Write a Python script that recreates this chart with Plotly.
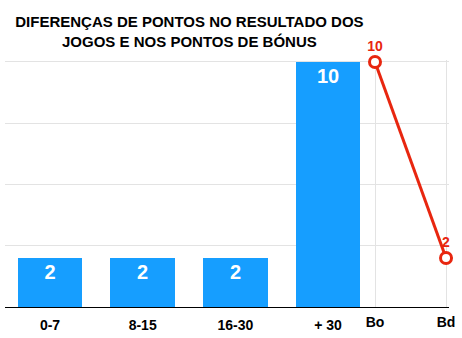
import plotly.graph_objects as go

# Point-difference bands and how many games fell in each
bands = ["0-7", "8-15", "16-30", "+ 30"]
games = [2, 2, 2, 10]

# Bonus points: offensive (Bo) and defensive (Bd)
bonus_types = ["Bo", "Bd"]
bonus_points = [10, 2]

BLUE = "#169EFF"
RED = "#E8260F"
FONT = "Liberation Sans, Arial, Helvetica, sans-serif"

fig = go.Figure()

fig.add_trace(go.Bar(
    x=bands, y=games, width=0.7,
    marker=dict(color=BLUE, line=dict(width=0)),
    text=[str(v) for v in games],
    textposition="inside", insidetextanchor="end",
    textfont=dict(family=FONT, size=20, color="white"),
    texttemplate="<b>%{text}</b>",
    cliponaxis=False,
    xaxis="x", yaxis="y",
    showlegend=False,
))

fig.add_trace(go.Scatter(
    x=bonus_types, y=bonus_points,
    mode="lines+markers+text",
    line=dict(color=RED, width=3),
    marker=dict(symbol="circle", size=11, color="white",
                line=dict(color=RED, width=3)),
    text=[f"<b>{v}</b>" for v in bonus_points],
    textposition="top center",
    textfont=dict(family=FONT, size=14, color=RED),
    cliponaxis=False,
    xaxis="x2", yaxis="y",
    showlegend=False,
))

fig.update_layout(
    width=462, height=338,
    margin=dict(l=5, r=13, t=60, b=31),
    paper_bgcolor="white", plot_bgcolor="white",
    font=dict(family=FONT, color="black"),
    title=dict(
        text="<b>DIFERENÇAS DE PONTOS NO RESULTADO DOS<br>JOGOS E NOS PONTOS DE BÓNUS</b>",
        x=0.41, xanchor="center", y=0.92, yanchor="middle",
        font=dict(family=FONT, size=15, color="black"),
    ),
    bargap=0,
    xaxis=dict(
        type="category", range=[-0.486, 4.306],
        showgrid=False, zeroline=False,
        showline=True, linecolor="black", linewidth=1,
        ticks="", ticklabelstandoff=5,
        tickfont=dict(family=FONT, size=14, color="black"),
        tickprefix="<b>", ticksuffix="</b>",
    ),
    xaxis2=dict(
        type="category", range=[-5.21, 1.042],
        overlaying="x", side="bottom",
        showgrid=True, gridcolor="#E3E3E3", gridwidth=1,
        zeroline=False, showline=False,
        ticks="", ticklabelstandoff=5,
        tickfont=dict(family=FONT, size=14, color="black"),
        tickprefix="<b>", ticksuffix="</b>",
    ),
    yaxis=dict(
        range=[0, 10.08], dtick=2.5,
        showgrid=True, gridcolor="#E3E3E3", gridwidth=1,
        zeroline=False, showticklabels=False, ticks="",
    ),
)

fig.write_html("out.html")
